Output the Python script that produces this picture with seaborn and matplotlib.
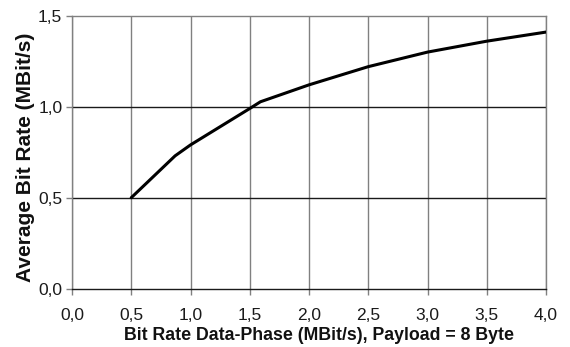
import matplotlib
matplotlib.use("Agg")
import matplotlib.pyplot as plt
import seaborn as sns
import pandas as pd

# Data
data_phase_rate = [0.5, 0.87, 1.0, 1.25, 1.5, 1.59, 2.0, 2.5, 3.0, 3.5, 4.0]
avg_bit_rate = [0.50, 0.73, 0.79, 0.89, 0.99, 1.027, 1.12, 1.22, 1.30, 1.36, 1.41]

x_ticks = [0.0, 0.5, 1.0, 1.5, 2.0, 2.5, 3.0, 3.5, 4.0]
x_tick_labels = ["0,0", "0,5", "1,0", "1,5", "2,0", "2,5", "3,0", "3,5", "4,0"]
y_ticks = [0.0, 0.5, 1.0, 1.5]
y_tick_labels = ["0,0", "0,5", "1,0", "1,5"]

x_label = "Bit Rate Data-Phase (MBit/s), Payload = 8 Byte"
y_label = "Average Bit Rate (MBit/s)"

sns.set_theme(style="white")
plt.rcParams["font.family"] = ["Liberation Sans", "DejaVu Sans"]

df = pd.DataFrame({"x": data_phase_rate, "y": avg_bit_rate})

fig = plt.figure(figsize=(5.7, 3.47), dpi=100)
ax = fig.add_axes([72 / 570, 1 - 288.7 / 347, 474 / 570, 273 / 347])

# grid lines
for xv in x_ticks:
    ax.axvline(xv, color="#808080", lw=1.0, zorder=1)
for yv in y_ticks[1:-1]:
    ax.axhline(yv, color="#1a1a1a", lw=1.0, zorder=1)

sns.lineplot(data=df, x="x", y="y", ax=ax, color="black", linewidth=2.2, zorder=3)

ax.set_xlim(0, 4.0)
ax.set_ylim(0, 1.5)
ax.set_xticks(x_ticks)
ax.set_xticklabels(x_tick_labels)
ax.set_yticks(y_ticks)
ax.set_yticklabels(y_tick_labels)

for side in ["top", "right", "left"]:
    ax.spines[side].set_color("#808080")
    ax.spines[side].set_linewidth(1.0)
ax.spines["bottom"].set_color("#1a1a1a")
ax.spines["bottom"].set_linewidth(1.0)

ax.tick_params(axis="both", which="major", direction="out", length=4, width=1,
               color="#808080", labelsize=12.5, labelcolor="#1a1a1a")
ax.tick_params(axis="x", bottom=True, pad=10)
ax.tick_params(axis="y", left=True, pad=3)

ax.set_xlabel(x_label, fontsize=12.8, fontweight="bold", color="#111111")
ax.set_ylabel(y_label, fontsize=15, fontweight="bold", color="#111111")
ax.xaxis.set_label_coords((319 - 72) / 474, -(336 - 288.7) / 273)
ax.xaxis.label.set_verticalalignment("center")
ax.yaxis.set_label_coords(-(72 - 26) / 474, (288.7 - 157) / 273)
ax.yaxis.label.set_verticalalignment("center")

fig.savefig("out.png", dpi=100)
